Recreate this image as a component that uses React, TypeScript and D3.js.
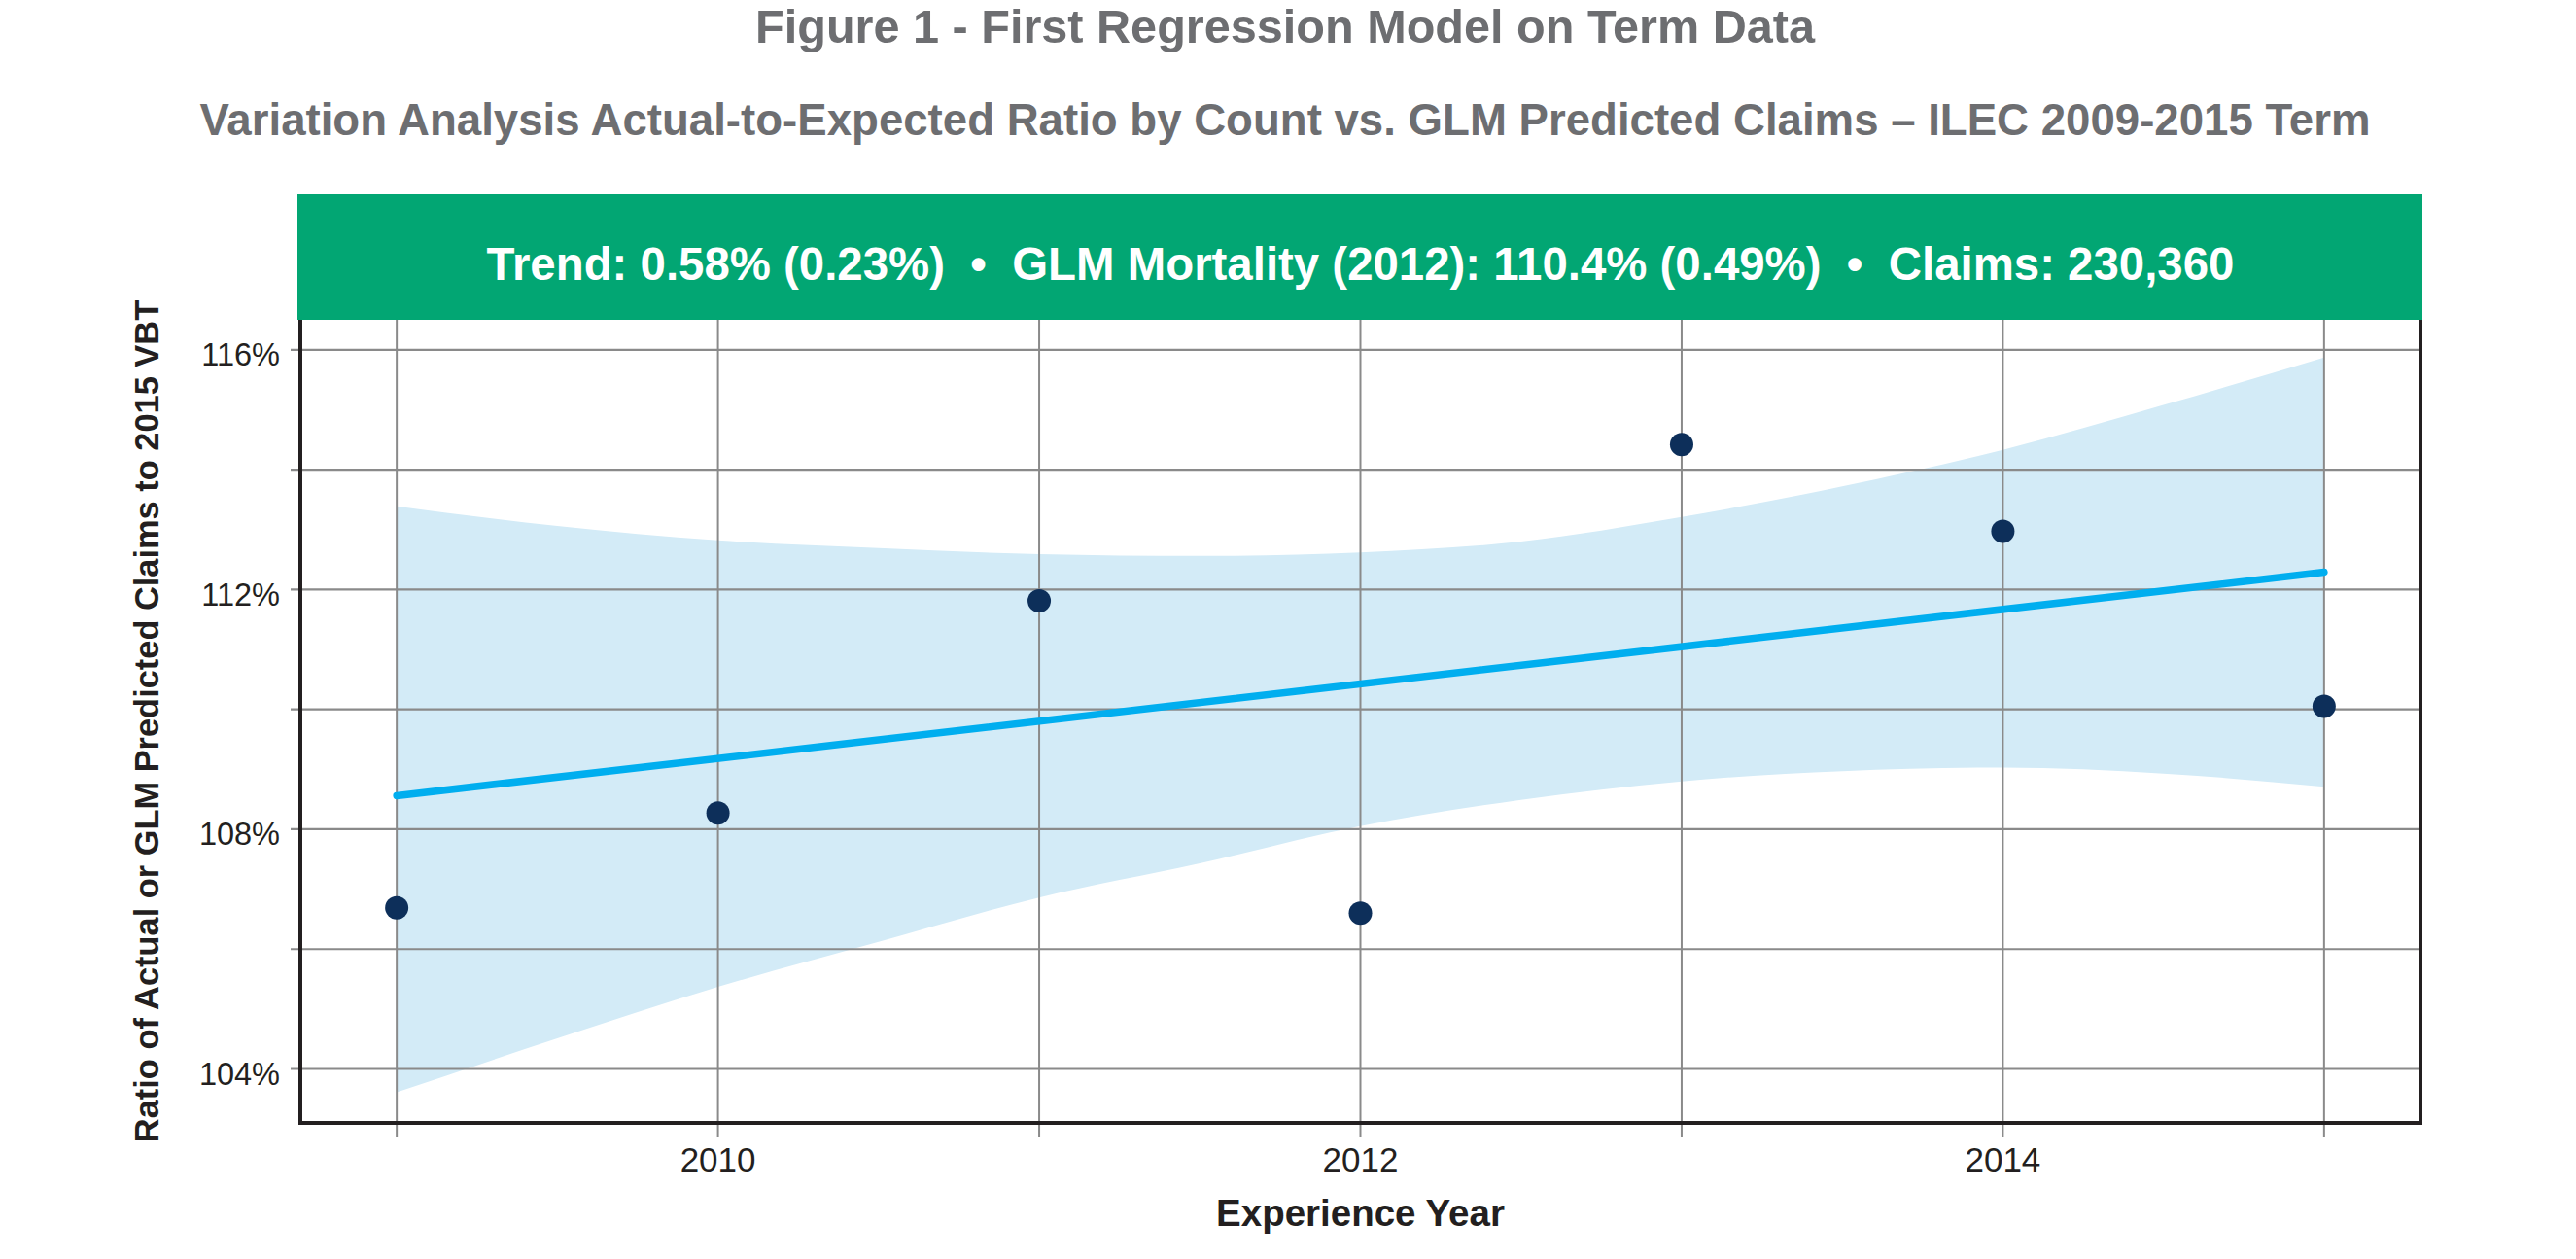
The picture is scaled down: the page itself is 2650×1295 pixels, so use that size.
import React from 'react';
import * as d3 from 'd3';

// observed A/E ratios by experience year (percent)
const years = [2009, 2010, 2011, 2012, 2013, 2014, 2015];
const actualRatio = [106.69, 108.27, 111.81, 106.6, 114.42, 112.97, 110.05];

// fitted GLM trend (endpoints of the straight line)
const trendYears = [2009, 2015];
const trendValues = [108.56, 112.29];

// confidence band, read at half-year steps
const bandYears = [2009, 2009.5, 2010, 2010.5, 2011, 2011.5, 2012, 2012.5, 2013, 2013.5, 2014, 2014.5, 2015];
const bandUpper = [113.39, 113.06, 112.82, 112.69, 112.59, 112.56, 112.62, 112.8, 113.21, 113.72, 114.33, 115.08, 115.87];
const bandLower = [103.61, 104.51, 105.37, 106.12, 106.86, 107.43, 108.05, 108.49, 108.8, 108.97, 109.03, 108.93, 108.71];

const yGridTicks = [104, 106, 108, 110, 112, 114, 116];
const yLabelTicks = [104, 108, 112, 116];
const xLabelTicks = [2010, 2012, 2014];

const title = 'Figure 1 - First Regression Model on Term Data';
const subtitle = 'Variation Analysis Actual-to-Expected Ratio by Count vs. GLM Predicted Claims \u2013 ILEC 2009-2015 Term';
const stripText = 'Trend: 0.58% (0.23%)  \u2022  GLM Mortality (2012): 110.4% (0.49%)  \u2022  Claims: 230,360';
const yTitle = 'Ratio of Actual or GLM Predicted Claims to 2015 VBT';
const xTitle = 'Experience Year';

const W = 2650;
const H = 1295;
const plot = { left: 309, right: 2490, top: 329, bottom: 1155 };
const FONT = '"Liberation Sans", Arial, sans-serif';
const GREY_TXT = '#6d6e71';
const INK = '#231f20';
const GRID = '#8a8a8a';

export default function App() {
  const x = d3.scaleLinear().domain([2008.7, 2015.3]).range([plot.left, plot.right]);
  const y = d3.scaleLinear().domain([103.1, 116.5]).range([plot.bottom, plot.top]);

  const band = d3
    .area<number>()
    .x((d) => x(bandYears[d]))
    .y0((d) => y(bandLower[d]))
    .y1((d) => y(bandUpper[d]))
    .curve(d3.curveMonotoneX);

  const trend = d3
    .line<number>()
    .x((d) => x(trendYears[d]))
    .y((d) => y(trendValues[d]));

  const cx = (plot.left + plot.right) / 2;

  return (
    <svg
      width={W}
      height={H}
      style={{ position: 'absolute', left: 0, top: 0, background: '#fff' }}
      fontFamily={FONT}
    >
      <rect x={0} y={0} width={W} height={H} fill="#fff" />

      {/* titles */}
      <text x={1322} y={44} textAnchor="middle" fontSize={48.6} fontWeight="bold" fill={GREY_TXT}>
        {title}
      </text>
      <text x={1322} y={138.5} textAnchor="middle" fontSize={45.6} fontWeight="bold" fill={GREY_TXT}>
        {subtitle}
      </text>

      {/* green strip */}
      <rect x={plot.left - 3} y={200} width={plot.right - plot.left + 5} height={plot.top - 200} fill="#02a673" />
      <text x={cx} y={288} textAnchor="middle" fontSize={47.4} fontWeight="bold" fill="#fff" style={{ whiteSpace: 'pre' }}>
        {stripText}
      </text>

      {/* confidence band */}
      <path d={band(bandYears.map((_, i) => i)) || ''} fill="#d3ebf7" />

      {/* grid + ticks */}
      {yGridTicks.map((t) => (
        <line key={'gy' + t} x1={plot.left - 10} x2={plot.right} y1={y(t)} y2={y(t)} stroke={GRID} strokeWidth={2.2} />
      ))}
      {years.map((t) => (
        <line key={'gx' + t} x1={x(t)} x2={x(t)} y1={plot.top} y2={plot.bottom + 15} stroke={GRID} strokeWidth={2} />
      ))}

      {/* trend line */}
      <path d={trend([0, 1]) || ''} fill="none" stroke="#00aeef" strokeWidth={7.5} strokeLinecap="round" />

      {/* observed points */}
      {years.map((yr, i) => (
        <circle key={'p' + yr} cx={x(yr)} cy={y(actualRatio[i])} r={12} fill="#0d2f5a" />
      ))}

      {/* panel border: left, bottom, right */}
      <path
        d={`M${plot.left},${plot.top}V${plot.bottom}H${plot.right}V${plot.top}`}
        fill="none"
        stroke="#231f20"
        strokeWidth={4}
      />

      {/* axis labels */}
      {yLabelTicks.map((t) => (
        <text key={'ly' + t} x={288} y={y(t) + 16.5} textAnchor="end" fontSize={32.5} fill={INK}>
          {`${t}%`}
        </text>
      ))}
      {xLabelTicks.map((t) => (
        <text key={'lx' + t} x={x(t)} y={1205} textAnchor="middle" fontSize={35} fill={INK}>
          {t}
        </text>
      ))}

      <text x={cx} y={1261} textAnchor="middle" fontSize={38.5} fontWeight="bold" fill={INK}>
        {xTitle}
      </text>
      <text
        transform={`translate(163,${(plot.top + plot.bottom) / 2}) rotate(-90)`}
        textAnchor="middle"
        fontSize={34.4}
        fontWeight="bold"
        fill={INK}
      >
        {yTitle}
      </text>
    </svg>
  );
}
